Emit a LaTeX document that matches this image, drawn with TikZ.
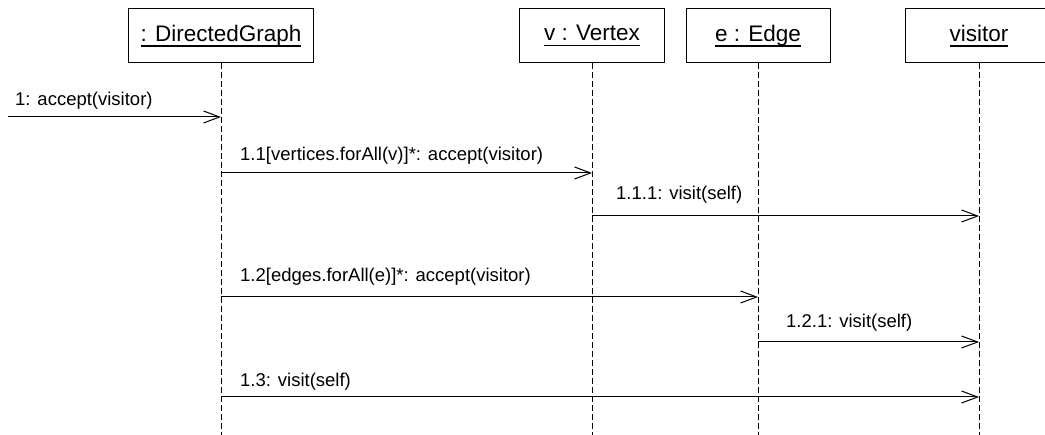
\documentclass[tikz,border=0pt]{standalone}
\usepackage{fontspec}
\setmainfont{Liberation Sans}
\usetikzlibrary{arrows.meta, positioning, calc}
\tikzset{
  % object boxes heading each lifeline
  obj/.style={draw, line width=1pt, minimum height=54pt, inner sep=2pt,
    font=\fontsize{22.5}{26}\selectfont, align=center},
  % dashed lifeline
  life/.style={line width=0.8pt, dash pattern=on 6pt off 3pt},
  % call message (open head)
  msg/.style={-{Straight Barb[length=16pt,width=12pt]}, line width=1pt},
  % message label
  lbl/.style={anchor=base west, inner sep=0pt, font=\fontsize{18.5}{22}\selectfont},
}
% underlined object name (fixed depth, heavier rule)
\newcommand{\objname}[1]{\setbox0\hbox{#1}\rlap{\rule[-5.5pt]{\wd0}{1.6pt}}\box0}

\begin{document}
\begin{tikzpicture}[x=1pt, y=-1pt]
\clip (0,0) rectangle (1045,435);

% ===================================================================
% OBJECTS + LIFELINES
% ===================================================================
\node[obj, minimum width=185pt] (dg)  at (221,36) {\objname{: DirectedGraph}};
\node[obj, minimum width=145pt] (vtx) at (592,36) {\objname{v : Vertex}};
\node[obj, minimum width=144pt] (edg) at (758,36) {\objname{e : Edge}};
\node[obj, minimum width=148pt] (vis) at (979,36) {\objname{visitor}};

\coordinate (bot) at (0,435);
\foreach \o in {dg,vtx,edg,vis}
  \draw[life] (\o.south) -- (\o.south |- bot);

% ===================================================================
% MESSAGES (top to bottom)
% ===================================================================
\coordinate (src) at (8,117);
\coordinate (m11)  at (0,173);
\coordinate (m111) at (0,216);
\coordinate (m12)  at (0,297);
\coordinate (m121) at (0,342);
\coordinate (m13)  at (0,397);

% 1: found message
\draw[msg] (src) -- (src -| dg);
\node[lbl] (l1) at (15,106) {1: accept(visitor)};

% 1.1 / 1.1.1 -- vertices
\draw[msg] (dg |- m11) -- (vtx |- m11);
\node[lbl] (l11) at (240,161) {1.1[vertices.forAll(v)]*: accept(visitor)};
\draw[msg] (vtx |- m111) -- (vis |- m111);
\node[lbl] (l111) at (616,200) {1.1.1: visit(self)};

% 1.2 / 1.2.1 -- edges
\draw[msg] (dg |- m12) -- (edg |- m12);
\node[lbl] (l12) at (240,282) {1.2[edges.forAll(e)]*: accept(visitor)};
\draw[msg] (edg |- m121) -- (vis |- m121);
\node[lbl] (l121) at (786,328) {1.2.1: visit(self)};

% 1.3 -- the graph itself
\draw[msg] (dg |- m13) -- (vis |- m13);
\node[lbl] (l13) at (240,387) {1.3: visit(self)};

\end{tikzpicture}
\end{document}
